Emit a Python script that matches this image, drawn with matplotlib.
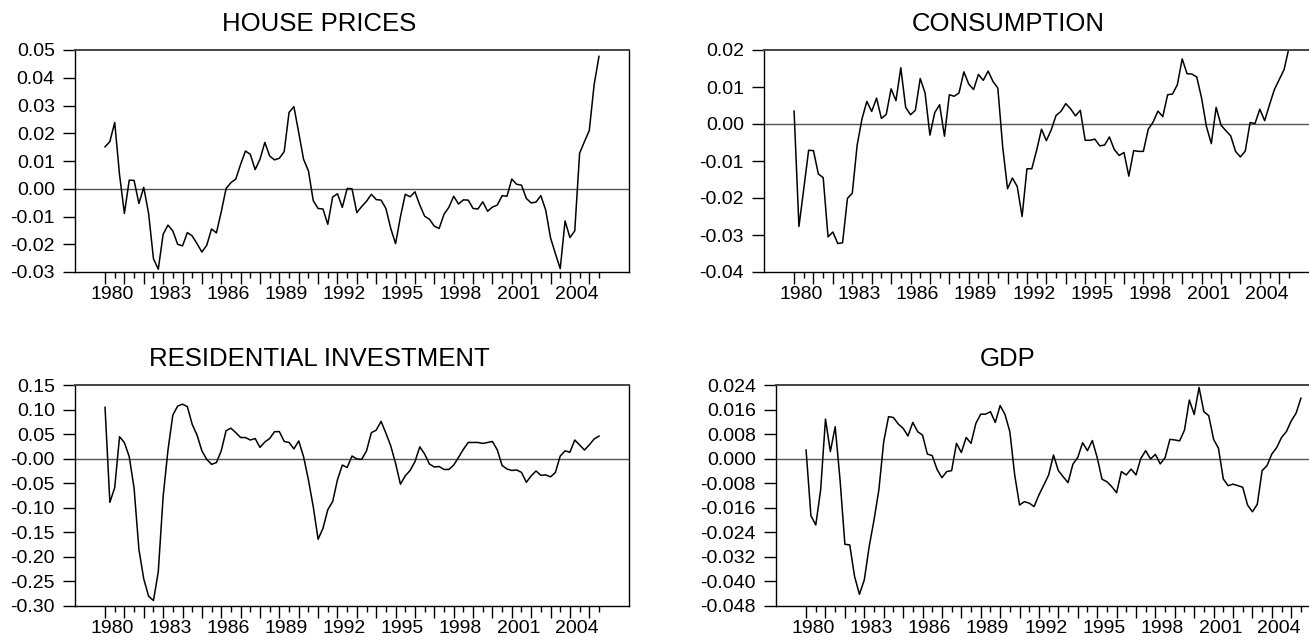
import matplotlib
matplotlib.use('Agg')
import matplotlib.pyplot as plt
import matplotlib.transforms as mtransforms
import numpy as np

plt.rcParams['font.family'] = ['Liberation Sans', 'DejaVu Sans']

# quarterly observations, first one is 1980Q1
start_year = 1980

house_prices = [0.0151, 0.017, 0.0239, 0.005, -0.0089, 0.0031, 0.003, -0.0053, 0.0005, -0.0089,
                -0.0252, -0.029, -0.0164, -0.0131, -0.0152, -0.020, -0.0206, -0.0158, -0.017, -0.0198,
                -0.0228, -0.0204, -0.0145, -0.0159, -0.0083, 0.0001, 0.0022, 0.0035, 0.0088, 0.0136,
                0.0124, 0.0069, 0.0106, 0.0167, 0.0118, 0.0104, 0.011, 0.0134, 0.0275, 0.0296,
                0.0202, 0.0106, 0.0065, -0.0043, -0.0071, -0.0073, -0.0128, -0.003, -0.0018, -0.0067,
                0.0001, 0.0, -0.0086, -0.0064, -0.0045, -0.002, -0.0039, -0.0041, -0.0071, -0.0143,
                -0.0198, -0.0101, -0.002, -0.0029, -0.0011, -0.0059, -0.0099, -0.011, -0.0135, -0.0143,
                -0.0092, -0.0067, -0.0027, -0.0055, -0.004, -0.0041, -0.0071, -0.0073, -0.0047, -0.0081,
                -0.0066, -0.0059, -0.0025, -0.0027, 0.0035, 0.0016, 0.0013, -0.0035, -0.0051, -0.0048,
                -0.0025, -0.0077, -0.0177, -0.0234, -0.0288, -0.0116, -0.0176, -0.0152, 0.0128, 0.017,
                0.021, 0.0375, 0.0477]

consumption = [0.0035, -0.0277, -0.0175, -0.0071, -0.0072, -0.0135, -0.0145, -0.0305, -0.0292, -0.0323,
               -0.0321, -0.0201, -0.0187, -0.0057, 0.0014, 0.0061, 0.0034, 0.007, 0.0015, 0.0026,
               0.0095, 0.0063, 0.0152, 0.0045, 0.0025, 0.0037, 0.0123, 0.0084, -0.003, 0.0031,
               0.0052, -0.0033, 0.0079, 0.0075, 0.0084, 0.0141, 0.0108, 0.0093, 0.0134, 0.0118,
               0.0143, 0.0115, 0.0097, -0.0062, -0.0175, -0.0146, -0.0169, -0.025, -0.0121, -0.0121,
               -0.0071, -0.0014, -0.0045, -0.0016, 0.0023, 0.0034, 0.0055, 0.0041, 0.0022, 0.0037,
               -0.0044, -0.0044, -0.0041, -0.0059, -0.0057, -0.0035, -0.0069, -0.0085, -0.0077, -0.0141,
               -0.0072, -0.0074, -0.0074, -0.0014, 0.0005, 0.0035, 0.002, 0.0079, 0.0081, 0.0106,
               0.0176, 0.0136, 0.0135, 0.0127, 0.007, -0.0007, -0.0053, 0.0045, -0.0003, -0.0018,
               -0.0032, -0.0074, -0.0089, -0.0073, 0.0004, 0.0001, 0.004, 0.0009, 0.0052, 0.0093,
               0.012, 0.0147, 0.0205]

residential_investment = [0.1045, -0.0889, -0.059, 0.0448, 0.0326, 0.0041, -0.06, -0.185, -0.245, -0.28,
                          -0.289, -0.23, -0.077, 0.0176, 0.0889, 0.107, 0.111, 0.106, 0.07, 0.048,
                          0.016, -0.0014, -0.0115, -0.008, 0.016, 0.057, 0.062, 0.053, 0.043, 0.043,
                          0.038, 0.041, 0.023, 0.034, 0.041, 0.055, 0.055, 0.035, 0.033, 0.02,
                          0.036, 0.004, -0.043, -0.098, -0.164, -0.142, -0.104, -0.0875, -0.043, -0.013,
                          -0.018, 0.0054, -0.0007, -0.0014, 0.016, 0.053, 0.058, 0.076, 0.052, 0.026,
                          -0.0095, -0.052, -0.035, -0.024, -0.006, 0.024, 0.0095, -0.011, -0.017, -0.016,
                          -0.022, -0.022, -0.013, 0.0027, 0.019, 0.033, 0.033, 0.033, 0.031, 0.033,
                          0.035, 0.018, -0.014, -0.021, -0.024, -0.023, -0.028, -0.048, -0.035, -0.025,
                          -0.034, -0.033, -0.037, -0.028, 0.0054, 0.016, 0.013, 0.038, 0.028, 0.0176,
                          0.028, 0.040, 0.046]

gdp = [0.0028, -0.0186, -0.0216, -0.0102, 0.0129, 0.0023, 0.0104, -0.0069, -0.0279, -0.0281,
       -0.0384, -0.0442, -0.0395, -0.0287, -0.02, -0.0102, 0.0055, 0.0137, 0.0134, 0.0113,
       0.0099, 0.0074, 0.0118, 0.0088, 0.0077, 0.0015, 0.001, -0.0035, -0.0062, -0.0042,
       -0.0039, 0.005, 0.002, 0.0069, 0.005, 0.0115, 0.0145, 0.0145, 0.0153, 0.0118,
       0.0173, 0.0144, 0.0088, -0.0053, -0.0151, -0.014, -0.0145, -0.0156, -0.0118, -0.0086,
       -0.0053, 0.0012, -0.0039, -0.0059, -0.0078, -0.0018, 0.0004, 0.0052, 0.0026, 0.0059,
       0.0004, -0.0067, -0.0075, -0.0091, -0.0111, -0.0042, -0.0053, -0.0034, -0.0053, 0.0001,
       0.0026, -0.0001, 0.0014, -0.0017, 0.0003, 0.0063, 0.0061, 0.0058, 0.0093, 0.0191,
       0.0144, 0.0232, 0.0153, 0.014, 0.0063, 0.0034, -0.0066, -0.0088, -0.0083, -0.0088,
       -0.0093, -0.0151, -0.0173, -0.0149, -0.0039, -0.0023, 0.0015, 0.0036, 0.0069, 0.0088,
       0.0123, 0.0148, 0.0197]

titles = ['HOUSE PRICES', 'CONSUMPTION', 'RESIDENTIAL INVESTMENT', 'GDP']
series = [house_prices, consumption, residential_investment, gdp]

ytick_values = [[0.05, 0.04, 0.03, 0.02, 0.01, 0.0, -0.01, -0.02, -0.03],
                [0.02, 0.01, 0.0, -0.01, -0.02, -0.03, -0.04],
                [0.15, 0.10, 0.05, 0.0, -0.05, -0.10, -0.15, -0.20, -0.25, -0.30],
                [0.024, 0.016, 0.008, 0.0, -0.008, -0.016, -0.024, -0.032, -0.040, -0.048]]
ytick_labels = [['0.05', '0.04', '0.03', '0.02', '0.01', '0.00', '-0.01', '-0.02', '-0.03'],
                ['0.02', '0.01', '0.00', '-0.01', '-0.02', '-0.03', '-0.04'],
                ['0.15', '0.10', '0.05', '-0.00', '-0.05', '-0.10', '-0.15', '-0.20', '-0.25', '-0.30'],
                ['0.024', '0.016', '0.008', '0.000', '-0.008', '-0.016', '-0.024', '-0.032', '-0.040', '-0.048']]

year_labels = [1980, 1983, 1986, 1989, 1992, 1995, 1998, 2001, 2004]

W, H = 1309, 638
# axes boxes in pixels: left, top, right, bottom (right column runs past the edge)
boxes = [(75, 50, 629, 272), (764, 50, 1319, 272),
         (75, 385, 629, 606), (776, 385, 1331, 606)]
# titles are centred on the whole graph frame, not the plot box
title_centres = [319, 1008, 319, 1008]

fig = plt.figure(figsize=(W / 100, H / 100), dpi=100)

for k in range(4):
    l, t, r, b = boxes[k]
    ax = fig.add_axes([l / W, 1 - b / H, (r - l) / W, (b - t) / H])
    vals = series[k]
    x = start_year + np.arange(len(vals)) / 4.0
    ax.plot(x, vals, color='black', lw=1.1, clip_on=True)
    ax.axhline(0, color='#555555', lw=1.0, zorder=1)

    yt = ytick_values[k]
    ax.set_ylim(min(yt), max(yt))
    ax.set_xlim(1978.45, 2007.05)
    ax.set_yticks(yt)
    ax.set_yticklabels(ytick_labels[k])
    ax.tick_params(axis='y', direction='out', length=8.5, width=1, pad=6,
                   labelsize=14, color='black')

    ax.set_xticks(np.arange(1980, 2006, 1))
    ax.set_xticks(np.arange(1980.5, 2006, 1), minor=True)
    ax.tick_params(axis='x', which='major', direction='out', length=8.5, width=1, labelbottom=False)
    ax.tick_params(axis='x', which='minor', direction='out', length=4.5, width=1)

    trans = mtransforms.blended_transform_factory(ax.transData, ax.transAxes)
    for yr in year_labels:
        ax.text(yr + 0.35, -0.065, str(yr), transform=trans, ha='center', va='top',
                fontsize=14)

    for side in ['left', 'bottom', 'right']:
        ax.spines[side].set_color('black')
        ax.spines[side].set_linewidth(1.0)
    ax.spines['top'].set_color('#444444')
    ax.spines['top'].set_linewidth(1.4)

    ax.set_title(titles[k], fontsize=18.5, pad=14,
                 x=(title_centres[k] - l) / (r - l))

fig.savefig('out.png', dpi=100)
